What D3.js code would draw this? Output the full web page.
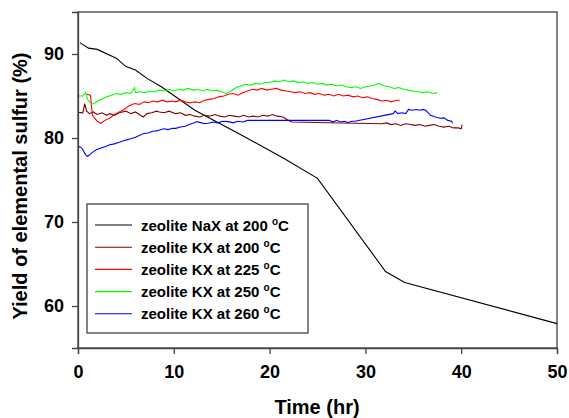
<!DOCTYPE html>
<html>
<head>
<meta charset="utf-8">
<script src="https://cdn.jsdelivr.net/npm/d3@7"></script>
<style>
  body { margin: 0; background: #fff; }
  text { font-family: "Liberation Sans", Arial, sans-serif; font-weight: bold; }
</style>
</head>
<body>
<div id="chart"></div>
<script>
// Chart data (time in hr, yield in %)
const xTicks = [0, 10, 20, 30, 40, 50];
const yTicks = [60, 70, 80, 90];

const nax200 = [
  [0.2, 91.35], [1.1, 90.7], [2.0, 90.55], [4.0, 89.5], [5.0, 88.5], [6.0, 88.1],
  [7.2, 87.1], [8.7, 86.1], [12.2, 83.3], [17.0, 80.4], [21.6, 77.5], [25.0, 75.2],
  [32.1, 64.1], [34.1, 62.8], [50.0, 57.9]
];

const kx200 = [
  [0.0, 83.05], [0.5, 83.0], [0.7, 84.1], [0.9, 83.2], [1.2, 82.9], [1.6, 83.1], [2.0, 82.8],
  [2.5, 83.0], [3.0, 82.7], [3.3, 82.9], [3.8, 82.7], [4.3, 83.0], [5.0, 83.2], [5.5, 82.9],
  [6.0, 83.1], [6.4, 82.8], [6.8, 82.5], [7.2, 82.9], [7.7, 83.0], [8.2, 83.2], [8.5, 83.1],
  [9.0, 83.0], [9.5, 83.2], [10.2, 82.9], [10.7, 83.0], [11.2, 82.7], [11.7, 82.8], [12.2, 82.6],
  [12.7, 82.5], [13.2, 82.7], [13.7, 82.6], [14.3, 82.8], [14.8, 82.6], [15.3, 82.5], [15.8, 82.7],
  [16.3, 82.6], [16.8, 82.5], [17.3, 82.7], [17.8, 82.5], [18.3, 82.6], [18.8, 82.5], [19.3, 82.7],
  [19.8, 82.6], [20.3, 82.8], [20.8, 82.6], [21.4, 82.5], [21.8, 82.2], [22.3, 81.9],
  [31.7, 81.7], [32.2, 81.8], [32.7, 81.6], [33.2, 81.7], [33.7, 81.5], [34.2, 81.7], [34.7, 81.6],
  [35.2, 81.5], [35.7, 81.6], [36.2, 81.4], [36.7, 81.5], [37.2, 81.6], [37.7, 81.4], [38.2, 81.3],
  [38.7, 81.4], [39.2, 81.2], [39.7, 81.2], [40.0, 81.1], [40.1, 81.6]
];

const kx225 = [
  [0.9, 85.2], [1.3, 85.1], [1.5, 82.7], [2.0, 82.0], [2.4, 81.75], [2.8, 82.1], [3.3, 82.35],
  [3.8, 82.8], [4.3, 83.1], [4.8, 83.4], [5.3, 83.8], [5.9, 84.1], [6.4, 84.0], [6.9, 84.3],
  [7.4, 84.2], [7.8, 84.4], [8.3, 84.3], [8.8, 84.5], [9.3, 84.3], [9.8, 84.4], [10.2, 84.3],
  [10.7, 84.5], [11.2, 84.3], [11.7, 84.2], [12.2, 84.3], [12.7, 84.2], [13.2, 84.5], [13.7, 84.6],
  [14.2, 84.7], [14.7, 84.9], [15.2, 85.0], [15.7, 85.2], [16.2, 85.3], [16.7, 85.1], [17.2, 85.4],
  [17.7, 85.6], [18.2, 85.8], [18.7, 85.7], [19.2, 85.9], [19.7, 85.7], [20.2, 85.8], [20.7, 85.9],
  [21.2, 85.7], [21.7, 85.6], [22.2, 85.5], [22.7, 85.4], [23.2, 85.5], [23.7, 85.3], [24.2, 85.4],
  [24.7, 85.2], [25.2, 85.3], [25.7, 85.1], [26.2, 85.2], [26.7, 85.0], [27.2, 85.2], [27.7, 85.0],
  [28.2, 85.1], [28.7, 84.9], [29.2, 85.0], [29.7, 84.8], [30.2, 84.9], [30.7, 84.7], [31.2, 84.6],
  [31.7, 84.4], [32.2, 84.5], [32.7, 84.3], [33.2, 84.5], [33.6, 84.5]
];

const kx250 = [
  [0.0, 85.0], [0.5, 85.0], [0.8, 85.4], [1.0, 84.6], [1.4, 84.0], [1.8, 84.2], [2.2, 84.5],
  [2.6, 84.7], [3.0, 84.9], [3.5, 85.1], [4.0, 85.3], [4.5, 85.2], [5.0, 85.4], [5.5, 85.3],
  [5.9, 86.0], [6.0, 85.4], [6.5, 85.5], [7.0, 85.4], [7.5, 85.6], [8.0, 85.5], [8.5, 85.7],
  [9.0, 85.6], [9.5, 85.8], [10.0, 85.6], [10.5, 85.8], [11.0, 85.7], [11.5, 85.9], [12.0, 85.7],
  [12.5, 85.8], [13.0, 85.6], [13.5, 85.8], [14.0, 85.6], [14.5, 85.7], [15.0, 85.5], [15.5, 85.3],
  [16.0, 85.6], [16.5, 86.0], [17.0, 86.2], [17.5, 86.4], [18.0, 86.3], [18.5, 86.5], [19.0, 86.4],
  [19.5, 86.6], [20.0, 86.6], [20.5, 86.8], [21.0, 86.7], [21.5, 86.9], [22.0, 86.7], [22.5, 86.8],
  [23.0, 86.6], [23.5, 86.7], [24.0, 86.5], [24.5, 86.6], [25.0, 86.4], [25.5, 86.5], [26.0, 86.3],
  [26.5, 86.4], [27.0, 86.2], [27.5, 86.3], [28.0, 86.1], [28.5, 86.0], [29.0, 86.1], [29.5, 85.9],
  [30.0, 86.1], [30.5, 86.2], [31.0, 86.3], [31.4, 86.5], [32.0, 86.2], [32.5, 86.1], [33.0, 85.9],
  [33.5, 86.0], [34.0, 85.8], [34.5, 85.7], [35.0, 85.6], [35.5, 85.5], [36.0, 85.4], [36.5, 85.5],
  [37.0, 85.3], [37.5, 85.4]
];

const kx260 = [
  [0.0, 79.05], [0.4, 78.8], [0.8, 78.0], [1.0, 77.8], [1.4, 78.2], [1.9, 78.6], [2.4, 78.8],
  [2.9, 79.0], [3.3, 79.2], [3.8, 79.3], [4.3, 79.5], [5.0, 79.75], [5.5, 79.9], [6.0, 80.1],
  [6.4, 80.3], [6.8, 80.5], [7.3, 80.6], [7.8, 80.8], [8.2, 80.85], [8.5, 80.95], [9.0, 81.1],
  [9.4, 81.0], [9.9, 81.15], [10.2, 81.15], [10.7, 81.3], [11.2, 81.4], [11.6, 81.6], [12.0, 81.75],
  [12.4, 81.95], [12.9, 81.8], [13.3, 81.7], [13.6, 81.75], [14.1, 81.9], [14.6, 81.8], [15.1, 82.0],
  [15.7, 81.95], [16.2, 81.8], [16.7, 82.0], [17.2, 81.9], [17.7, 82.1], [18.3, 82.1],
  [26.2, 82.1], [26.6, 81.9], [27.0, 82.1], [27.4, 81.9], [27.8, 82.0], [28.2, 81.85], [28.6, 82.0],
  [28.9, 82.0], [32.9, 82.9], [33.1, 83.2], [33.4, 82.9], [33.8, 83.0], [34.2, 82.9], [34.5, 83.4],
  [34.9, 83.3], [35.3, 83.4], [35.7, 83.3], [36.0, 83.4], [36.3, 83.3], [36.8, 82.7], [37.3, 82.5],
  [37.8, 82.35], [38.2, 82.4], [38.6, 82.1], [39.0, 82.0], [39.1, 81.75]
];

const seriesNames = ["zeolite NaX at 200 ", "zeolite KX at 200 ", "zeolite KX at 225 ",
  "zeolite KX at 250 ", "zeolite KX at 260 "];
const seriesColors = ["#000000", "#800000", "#ff0000", "#00ff00", "#0000ff"];
const seriesData = [nax200, kx200, kx225, kx250, kx260];

const width = 569, height = 418;
const margin = { top: 12, right: 12, bottom: 70, left: 78 };

const svg = d3.select("#chart")
  .append("svg")
  .attr("width", width)
  .attr("height", height);

const x = d3.scaleLinear().domain([0, 50]).range([margin.left, width - margin.right]);
const y = d3.scaleLinear().domain([55, 95]).range([height - margin.bottom, margin.top]);

// frame
svg.append("rect")
  .attr("x", x(0))
  .attr("y", y(95))
  .attr("width", x(50) - x(0))
  .attr("height", y(55) - y(95))
  .attr("fill", "none")
  .attr("stroke", "#444")
  .attr("stroke-width", 1.3);

// lines
const line = d3.line().x((d) => x(d[0])).y((d) => y(d[1]));
seriesData.forEach((data, i) => {
  svg.append("path")
    .datum(data)
    .attr("d", line)
    .attr("fill", "none")
    .attr("stroke", seriesColors[i])
    .attr("stroke-width", 1.1);
});

// axes
const xAxis = svg.append("g")
  .attr("transform", `translate(0,${y(55)})`)
  .call(d3.axisBottom(x).tickValues(xTicks).tickSize(6).tickPadding(11));
const yAxis = svg.append("g")
  .attr("transform", `translate(${x(0)},0)`)
  .call(d3.axisLeft(y).tickValues(yTicks).tickSize(6).tickPadding(8));

[xAxis, yAxis].forEach((g) => {
  g.attr("font-family", null).attr("font-size", null);
  g.select(".domain").attr("stroke", "#444").attr("stroke-width", 1.3);
  g.selectAll(".tick line").attr("stroke", "#444").attr("stroke-width", 1.3);
  g.selectAll(".tick text")
    .attr("fill", "#000")
    .style("font-size", "18px")
    .style("font-weight", "bold");
});

// axis titles
svg.append("text")
  .attr("x", 317)
  .attr("y", 414)
  .attr("text-anchor", "middle")
  .style("font-size", "20px")
  .text("Time (hr)");

svg.append("text")
  .attr("transform", `translate(27,${(y(55) + y(95)) / 2 + 6}) rotate(-90)`)
  .attr("text-anchor", "middle")
  .style("font-size", "20px")
  .text("Yield of elemental sulfur (%)");

// legend
const legend = svg.append("g");
legend.append("rect")
  .attr("x", 87)
  .attr("y", 204)
  .attr("width", 221)
  .attr("height", 129)
  .attr("fill", "#fff")
  .attr("stroke", "#444")
  .attr("stroke-width", 1.3);

seriesNames.forEach((name, i) => {
  const cy = 225 + i * 22.2;
  legend.append("line")
    .attr("x1", 95)
    .attr("x2", 132)
    .attr("y1", cy)
    .attr("y2", cy)
    .attr("stroke", seriesColors[i])
    .attr("stroke-width", 1.1);
  const t = legend.append("text")
    .attr("x", 141)
    .attr("y", cy + 5.5)
    .style("font-size", "15px");
  t.append("tspan").text(name);
  t.append("tspan").attr("dy", -6).style("font-size", "10px").text("o");
  t.append("tspan").attr("dy", 6).text("C");
});
</script>
</body>
</html>
